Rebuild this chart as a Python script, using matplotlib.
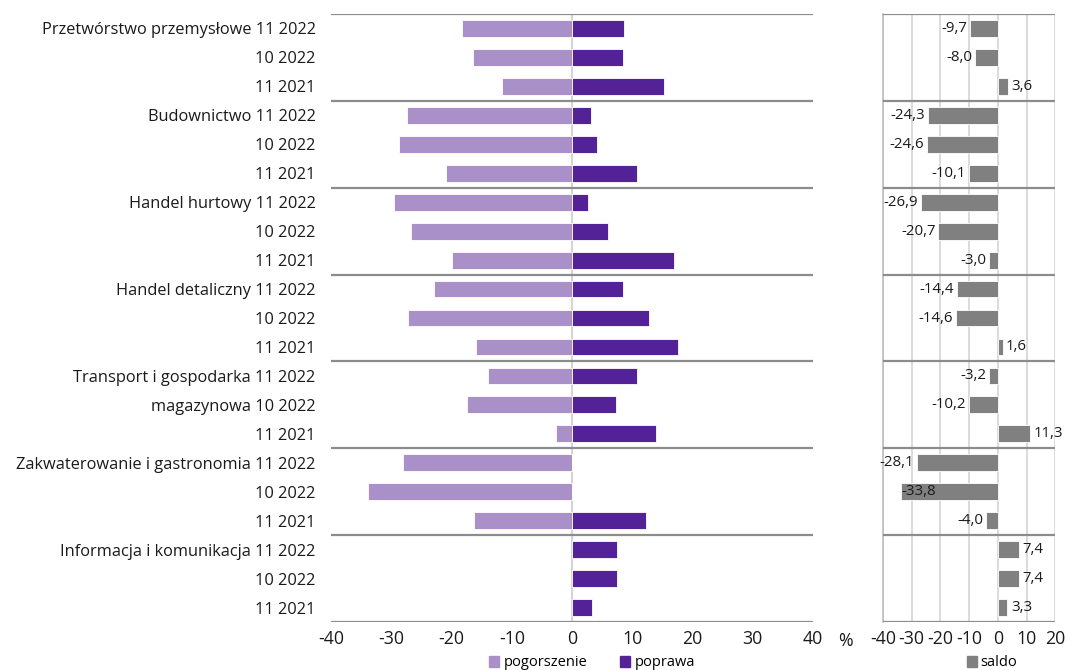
import matplotlib
matplotlib.use("Agg")
import matplotlib.pyplot as plt
from matplotlib.patches import Patch

plt.rcParams['font.family'] = ['Open Sans', 'DejaVu Sans']
plt.rcParams['axes.unicode_minus'] = False

# sector names (a name may wrap over two rows) and the three periods per sector
sectors = [
    ["Przetwórstwo przemysłowe"],
    ["Budownictwo"],
    ["Handel hurtowy"],
    ["Handel detaliczny"],
    ["Transport i gospodarka", "magazynowa"],
    ["Zakwaterowanie i gastronomia"],
    ["Informacja i komunikacja"],
]
periods = ["11 2022", "10 2022", "11 2021"]

pogorszenie = [-18.3, -16.5, -11.6, -27.4, -28.7, -20.9, -29.6, -26.7, -20.0,
               -22.9, -27.3, -16.0, -14.0, -17.5, -2.7, -28.1, -33.8, -16.2,
               0.0, 0.0, 0.0]
poprawa = [8.6, 8.5, 15.2, 3.1, 4.1, 10.8, 2.7, 6.0, 17.0, 8.5, 12.7, 17.6,
           10.8, 7.3, 14.0, 0.0, 0.0, 12.2, 7.4, 7.4, 3.3]
saldo = [-9.7, -8.0, 3.6, -24.3, -24.6, -10.1, -26.9, -20.7, -3.0, -14.4,
         -14.6, 1.6, -3.2, -10.2, 11.3, -28.1, -33.8, -4.0, 7.4, 7.4, 3.3]

left_ticks = [-40, -30, -20, -10, 0, 10, 20, 30, 40]
right_ticks = [-40, -30, -20, -10, 0, 10, 20]

# build row labels
labels = []
for lines in sectors:
    for j, p in enumerate(periods):
        if j < len(lines):
            labels.append(lines[j] + " " + p)
        else:
            labels.append(p)

n = len(labels)
rows = list(range(n))
c_pog = "#a990c9"
c_pop = "#522296"
c_sal = "#808080"
c_sep = "#8c8c8c"
c_grid = "#d4d4d4"
txt = "#1a1a1a"

fig = plt.figure(figsize=(10.67, 6.70), dpi=100)
ax = fig.add_axes([0.3102, 0.0716, 0.4518, 0.9075])
ax2 = fig.add_axes([0.8275, 0.0716, 0.1617, 0.9075])

# left panel
ax.axvline(0, color=c_grid, lw=1.5, zorder=1)
ax.barh(rows, pogorszenie, height=0.58, color=c_pog, edgecolor="white",
        linewidth=0.6, zorder=2)
ax.barh(rows, poprawa, height=0.58, color=c_pop, edgecolor="white",
        linewidth=0.6, zorder=2)
ax.set_xlim(-40, 40)
ax.set_ylim(n - 0.5, -0.5)
ax.set_xticks(left_ticks)
ax.set_xticklabels([str(t) for t in left_ticks])
ax.set_yticks(rows)
ax.set_yticklabels(labels, fontsize=11.8, color=txt)
ax.tick_params(length=0, pad=11)
ax.tick_params(axis='x', labelsize=12.8, colors=txt, pad=6)

# right panel
for t in right_ticks:
    ax2.axvline(t, color=c_grid, lw=1.2, zorder=1)
ax2.barh(rows, saldo, height=0.58, color=c_sal, edgecolor="white",
         linewidth=0.6, zorder=2)
ax2.set_xlim(-40, 20)
ax2.set_ylim(n - 0.5, -0.5)
ax2.set_xticks(right_ticks)
ax2.set_xticklabels([str(t) for t in right_ticks])
ax2.set_yticks([])
ax2.tick_params(length=0)
ax2.tick_params(axis='x', labelsize=12.8, colors=txt, pad=6)

for i, v in enumerate(saldo):
    s = f"{v:.1f}".replace(".", ",")
    if v >= 0:
        ax2.text(v + 1.2, i, s, ha="left", va="center", fontsize=10.8, color=txt, zorder=3)
    elif v < -30:
        # no room outside, put it inside the bar
        ax2.text(v + 0.3, i, s, ha="left", va="center", fontsize=10.8, color=txt, zorder=3)
    else:
        ax2.text(v - 1.0, i, s, ha="right", va="center", fontsize=10.8, color=txt, zorder=3)

for a in (ax, ax2):
    for sp in a.spines.values():
        sp.set_visible(False)
    for k in range(len(sectors) + 1):
        a.axhline(3 * k - 0.5, color=c_sep, lw=1.6, zorder=3)
ax2.spines['left'].set_visible(True)
ax2.spines['left'].set_color("#bdbdbd")
ax2.spines['left'].set_linewidth(1.2)

fig.text(845 / 1067, 1 - 641 / 670, "%", fontsize=12.8, color=txt,
         ha="center", va="center")

leg1 = fig.legend(handles=[Patch(color=c_pog, label="pogorszenie"),
                           Patch(color=c_pop, label="poprawa")],
                  loc="center", bbox_to_anchor=(592 / 1067, 1 - 663 / 670),
                  ncol=2, frameon=False, fontsize=10.5, handlelength=0.7,
                  handleheight=0.7, handletextpad=0.3, columnspacing=2.2,
                  borderpad=0)
leg2 = fig.legend(handles=[Patch(color=c_sal, label="saldo")],
                  loc="center", bbox_to_anchor=(992 / 1067, 1 - 663 / 670),
                  frameon=False, fontsize=10.5, handlelength=0.7,
                  handleheight=0.7, handletextpad=0.2, borderpad=0)

fig.savefig("out.png", dpi=100)
